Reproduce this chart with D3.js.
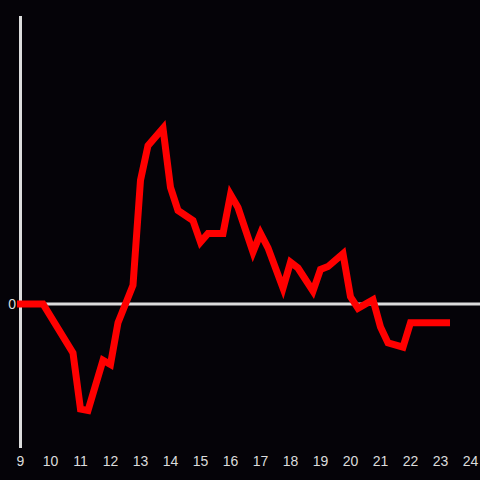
<!DOCTYPE html>
<html>
<head>
<meta charset="utf-8">
<script src="https://cdn.jsdelivr.net/npm/d3@7"></script>
<style>
  html, body { margin: 0; padding: 0; background: #050308; }
  svg { display: block; }
</style>
</head>
<body>
<script>
const hours = [9, 9.75, 10.75, 11, 11.25, 11.75, 12, 12.25, 12.75, 13, 13.25, 13.75, 14, 14.25, 14.75, 15, 15.25, 15.75, 16, 16.25, 16.75, 17, 17.25, 17.75, 18, 18.25, 18.75, 19, 19.25, 19.75, 20, 20.25, 20.75, 21, 21.25, 21.75, 22, 23.2];
const values = [0, 0, -0.34, -0.73, -0.74, -0.39, -0.42, -0.13, 0.13, 0.86, 1.10, 1.22, 0.81, 0.65, 0.58, 0.43, 0.49, 0.49, 0.76, 0.67, 0.36, 0.49, 0.39, 0.11, 0.29, 0.25, 0.09, 0.24, 0.26, 0.35, 0.05, -0.03, 0.03, -0.16, -0.27, -0.30, -0.13, -0.13];
const xTicks = [9, 10, 11, 12, 13, 14, 15, 16, 17, 18, 19, 20, 21, 22, 23, 24];
const yTicks = [0];

const W = 480, H = 480;
const svg = d3.select("body").append("svg").attr("width", W).attr("height", H);
svg.append("rect").attr("width", W).attr("height", H).attr("fill", "#050308");

const x = d3.scaleLinear().domain([9, 24]).range([20.5, 470.5]);
const y = d3.scaleLinear().domain([-1, 2]).range([448, 16]);

const axisColor = "#dcdcdc";

// x tick labels
svg.append("g").selectAll("text").data(xTicks).join("text")
  .attr("x", d => x(d)).attr("y", 466)
  .attr("text-anchor", "middle")
  .attr("font-family", "Liberation Sans, Arial, sans-serif")
  .attr("font-size", 14).attr("fill", axisColor)
  .text(d => d);

// y tick labels
svg.append("g").selectAll("text").data(yTicks).join("text")
  .attr("x", 16).attr("y", d => y(d) + 5)
  .attr("text-anchor", "end")
  .attr("font-family", "Liberation Sans, Arial, sans-serif")
  .attr("font-size", 14).attr("fill", axisColor)
  .text(d => d);

// zero line
svg.append("line")
  .attr("x1", x(9)).attr("x2", W)
  .attr("y1", y(0)).attr("y2", y(0))
  .attr("stroke", axisColor).attr("stroke-width", 3);

// y axis line
svg.append("line")
  .attr("x1", x(9)).attr("x2", x(9))
  .attr("y1", y(2)).attr("y2", y(-1))
  .attr("stroke", axisColor).attr("stroke-width", 3);

const line = d3.line().x((d, i) => x(hours[i])).y(d => y(d));
svg.append("path")
  .attr("d", line(values))
  .attr("fill", "none")
  .attr("stroke", "#ff0000")
  .attr("stroke-width", 7)
  .attr("stroke-linecap", "square")
  .attr("stroke-linejoin", "miter");
</script>
</body>
</html>
